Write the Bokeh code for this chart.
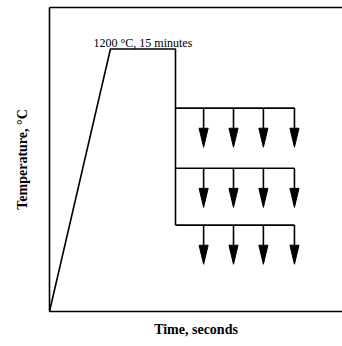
from bokeh.plotting import figure
from bokeh.models import Range1d, LinearAxis, FixedTicker, Label, Title
from bokeh.embed import file_html
from bokeh.resources import INLINE

# ---- data ----
profile_time = [0, 20.8, 43.0, 43.0]
profile_temp = [0, 1200, 1200, 395]
branch_start = 43.0
branch_temps = [930, 655, 395]
arrow_times = [52.6, 62.8, 73.0, 83.6]
arrow_drop = 179          # temperature drop shown by each arrow
peak_label = "1200 °C, 15 minutes"
x_label = "Time, seconds"
y_label = "Temperature, °C"

# ---- style ----
HEAD_LEN = 87
HEAD_HALF = 1.55
SERIF = "Liberation Serif"
X0, X1 = 0, 100
Y0, Y1 = 0, 1390

p = figure(width=342, height=346, output_backend="svg", toolbar_location=None,
           x_range=Range1d(X0, X1), y_range=Range1d(Y0, Y1),
           min_border_left=49, min_border_right=0, min_border_top=7,
           min_border_bottom=35)
p.outline_line_color = None
p.grid.visible = False
p.background_fill_color = "white"
p.border_fill_color = "white"

top_axis = LinearAxis()
p.add_layout(top_axis, "above")
bottom_axis = p.below[0]
left_axis = p.left[0]

for ax in [bottom_axis, left_axis, top_axis]:
    ax.ticker = FixedTicker(ticks=[])
    ax.major_tick_out = 0
    ax.major_tick_in = 0
    ax.minor_tick_out = 0
    ax.minor_tick_in = 0
    ax.major_label_text_font_size = "0px"
    ax.major_label_standoff = 0
    ax.axis_line_color = "black"
    ax.axis_line_width = 1.6

left_axis.axis_label = y_label
left_axis.axis_label_standoff = 20
left_axis.axis_label_text_font = SERIF
left_axis.axis_label_text_font_style = "bold"
left_axis.axis_label_text_font_size = "14px"
left_axis.axis_label_text_color = "black"

# heating profile
p.line(profile_time, profile_temp, line_color="black", line_width=1.6)

# cooling branches
p.segment(x0=[branch_start] * len(branch_temps), y0=branch_temps,
          x1=[max(arrow_times)] * len(branch_temps), y1=branch_temps,
          line_color="black", line_width=1.6)

# arrows
sx, sy0, sy1, hx, hy = [], [], [], [], []
for T in branch_temps:
    for t in arrow_times:
        sx.append(t)
        sy0.append(T)
        sy1.append(T - (arrow_drop - HEAD_LEN))
        hx.append([t - HEAD_HALF, t + HEAD_HALF, t])
        hy.append([T - (arrow_drop - HEAD_LEN), T - (arrow_drop - HEAD_LEN), T - arrow_drop])
p.segment(x0=sx, y0=sy0, x1=sx, y1=sy1, line_color="black", line_width=1.6)
p.patches(hx, hy, fill_color="black", line_color="black", line_width=1)

p.add_layout(Label(x=(profile_time[1] + profile_time[2]) / 2, y=profile_temp[1],
                   y_offset=6, text=peak_label, text_align="center",
                   text_baseline="alphabetic", text_font=SERIF,
                   text_font_size="12px", text_color="black"))

# x axis title
p.add_layout(Title(text=x_label, align="center", text_font=SERIF,
                   text_font_style="bold", text_font_size="14px",
                   text_color="black", standoff=17), "below")

open("out.html", "w").write(file_html(p, INLINE))
